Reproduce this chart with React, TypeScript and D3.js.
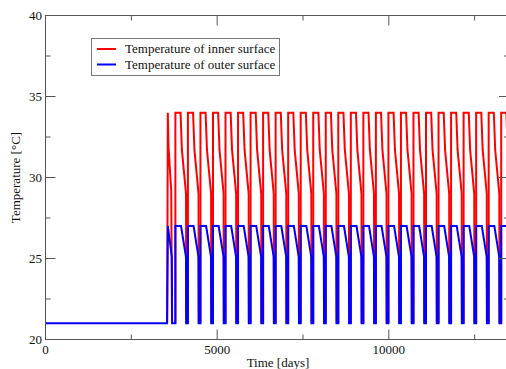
import React from "react";
import * as d3 from "d3";

// ---- data ----
// Warm-up (first, shorter) cycle of the inner and outer surface temperatures [day, °C]
const innerStart: [number, number][] = [
  [3545, 21], [3562, 34], [3583, 31.9], [3662, 29.2], [3685, 21],
];
const outerStart: [number, number][] = [
  [0, 21], [3540, 21], [3564, 27], [3680, 25.1], [3688, 21],
];
// Shape of one regular yearly cycle, offsets in days from the cycle's rise
const innerCycle: [number, number][] = [
  [0, 21], [0, 34], [150, 34], [190, 31.7], [310, 29.0], [315, 21],
];
const outerCycle: [number, number][] = [
  [0, 21], [0, 27], [165, 27], [308, 25.1], [315, 21],
];
// Days at which each regular cycle rises
const cycleRiseDays = [
  3783, 4148, 4513, 4878, 5243, 5608, 5973, 6338, 6703, 7068, 7433, 7798, 8163,
  8528, 8893, 9258, 9623, 9988, 10353, 10718, 11083, 11448, 11813, 12178, 12543,
  12908, 13273,
];
const seriesNames = ["Temperature of inner surface", "Temperature of outer surface"];
const seriesColors = ["#ff0000", "#0000ff"];
const xMajorTicks = [0, 5000, 10000];
const xMinorTicks = [2500, 7500, 12500];
const yMajorTicks = [20, 25, 30, 35, 40];
const yMinorTicks = [22.5, 27.5, 32.5, 37.5];
const xDomain = [0, 13500];
const yDomain = [20, 40];

// inner: one piece per cycle (its low part is hidden under the outer curve)
function innerPieces() {
  return [innerStart, ...cycleRiseDays.map((r) => innerCycle.map(([o, v]) => [r + o, v] as [number, number]))];
}
function outerSeries() {
  const pts: [number, number][] = [...outerStart];
  cycleRiseDays.forEach((r) => outerCycle.forEach(([o, v]) => pts.push([r + o, v])));
  return pts;
}

export default function App() {
  const W = 506, H = 369;
  const L = 45.5, R = 509, T = 15.5, B = 339.5;
  const x = d3.scaleLinear().domain(xDomain).range([L, R]);
  const y = d3.scaleLinear().domain(yDomain).range([B, T]);
  const line = d3.line<[number, number]>().x((d) => x(d[0])).y((d) => y(d[1]));
  const axisColor = "#555";
  const font = "Liberation Serif, DejaVu Serif, Times New Roman, serif";
  const txt = { fontFamily: font, fontSize: 13, fill: "#111" } as React.CSSProperties;

  return (
    <svg width={W} height={H} style={{ position: "absolute", left: 0, top: 0 }}>
      <rect x={0} y={0} width={W} height={H} fill="#fff" />
      <defs>
        <clipPath id="plot">
          <rect x={L} y={T} width={R - L} height={B - T} />
        </clipPath>
      </defs>
      <g clipPath="url(#plot)" fill="none" strokeWidth={2}>
        {innerPieces().map((p, i) => (
          <path key={i} d={line(p) || ""} stroke={seriesColors[0]} />
        ))}
        <path d={line(outerSeries()) || ""} stroke={seriesColors[1]} />
      </g>
      {/* frame */}
      <rect x={L} y={T} width={R - L} height={B - T} fill="none" stroke={axisColor} strokeWidth={1} />
      {/* x ticks */}
      {xMajorTicks.map((t) => (
        <g key={"xM" + t}>
          <line x1={x(t)} x2={x(t)} y1={B} y2={B - 10} stroke={axisColor} />
          <line x1={x(t)} x2={x(t)} y1={T} y2={T + 10} stroke={axisColor} />
          <text x={x(t)} y={354} textAnchor="middle" style={txt}>{t}</text>
        </g>
      ))}
      {xMinorTicks.map((t) => (
        <g key={"xm" + t}>
          <line x1={x(t)} x2={x(t)} y1={B} y2={B - 5} stroke={axisColor} />
          <line x1={x(t)} x2={x(t)} y1={T} y2={T + 5} stroke={axisColor} />
        </g>
      ))}
      {/* y ticks */}
      {yMajorTicks.map((t) => (
        <g key={"yM" + t}>
          <line x1={L} x2={L + 10} y1={y(t)} y2={y(t)} stroke={axisColor} />
          <line x1={R} x2={R - 10} y1={y(t)} y2={y(t)} stroke={axisColor} />
          <text x={42} y={y(t) + 4.5} textAnchor="end" style={txt}>{t}</text>
        </g>
      ))}
      {yMinorTicks.map((t) => (
        <g key={"ym" + t}>
          <line x1={L} x2={L + 5} y1={y(t)} y2={y(t)} stroke={axisColor} />
          <line x1={R} x2={R - 5} y1={y(t)} y2={y(t)} stroke={axisColor} />
        </g>
      ))}
      <text x={278} y={367} textAnchor="middle" style={txt}>Time [days]</text>
      <text transform={`translate(20,${(T + B) / 2}) rotate(-90)`} textAnchor="middle" style={txt}>
        Temperature [°C]
      </text>
      {/* legend */}
      <rect x={91.5} y={38.5} width={188} height={37} fill="#fff" stroke="#777" strokeWidth={1} />
      {seriesNames.map((n, i) => (
        <g key={n}>
          <line x1={97} x2={116} y1={49 + i * 15.5} y2={49 + i * 15.5} stroke={seriesColors[i]} strokeWidth={2} />
          <text x={125} y={53 + i * 15.5} style={txt}>{n}</text>
        </g>
      ))}
    </svg>
  );
}
